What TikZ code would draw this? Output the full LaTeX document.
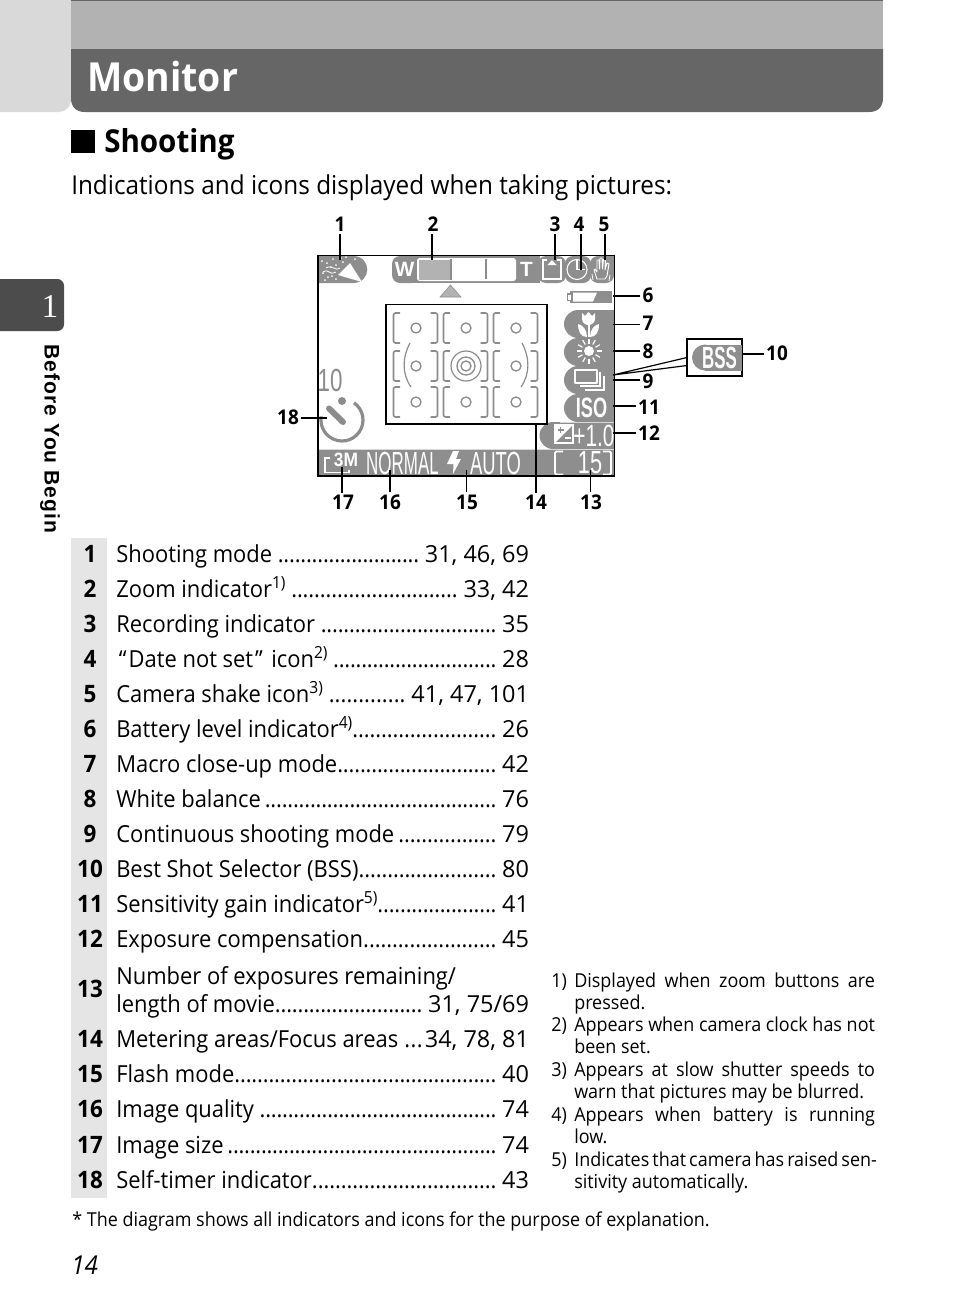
\documentclass[tikz,border=0pt]{standalone}
\usepackage{fontspec}
\usepackage{tikz}
\usepackage{xcolor}
\setmainfont[FakeStretch=0.935]{Open Sans}
\newfontfamily\numfont{Open Sans}
\newfontfamily\tabfont[LetterSpace=5]{Liberation Sans}
\newfontfamily\lcdfont{Liberation Sans}
\definecolor{iconbg}{HTML}{8E8E8E}
\definecolor{afgray}{HTML}{8C8C8C}
\newcommand{\dotrun}{\xleaders\hbox to 4.2pt{\hss.\hss}\hfill}
\newcommand{\fnm}[1]{\raisebox{6.5pt}{\fontsize{12.5pt}{14pt}\selectfont #1}}
\newcommand{\jline}[1]{\makebox[225.5pt][s]{#1}}
\tikzset{
  lbl/.style={font=\fontsize{15.2pt}{16pt}\selectfont\bfseries,inner sep=1.5pt},
  leadline/.style={line width=0.8pt},
  leadthick/.style={line width=1.3pt},
  rowtxt/.style={anchor=base west,inner sep=0pt,font=\fontsize{17.6pt}{20pt}\selectfont},
  rownum/.style={anchor=base,inner sep=0pt,font=\fontsize{18pt}{20pt}\selectfont\bfseries},
  notetxt/.style={anchor=base west,inner sep=0pt,font=\fontsize{14.4pt}{16.8pt}\selectfont},
  lcd/.style={inner sep=0pt,text=white,font=\lcdfont\fontsize{#1}{#1}\selectfont},
  lcdbold/.style={inner sep=0pt,text=white,font=\lcdfont\fontsize{#1}{#1}\selectfont\bfseries},
  afline/.style={draw=afgray,line width=1.2pt,rounded corners=1.5pt},
}
\begin{document}
\begin{tikzpicture}[x=0.75pt,y=-0.75pt]
  \useasboundingbox (0,0) rectangle (954,1314);
  % header
  \fill[black!15,rounded corners=9pt] (-20,-20) rectangle (71,112);
  \fill[black!30] (71,0) rectangle (883,49);
  \fill[black!60] (71,0) rectangle (883,1);
  \fill[black!60] (71,49) -- (883,49) -- (883,98) .. controls (883,107) and (878,112) .. (869,112) -- (85,112) .. controls (76,112) and (71,107) .. (71,98) -- cycle;
  \node[anchor=base west,inner sep=0pt,text=white,font=\fontsize{30pt}{32pt}\selectfont\bfseries] (title) at (87,91) {Monitor};
  % section head
  \fill (71,130) rectangle (95,153);
  \node[anchor=base west,inner sep=0pt,font=\fontsize{23.7pt}{26pt}\selectfont\bfseries] (sect) at (104,152) {Shooting};
  \node[anchor=base west,inner sep=0pt,font=\fontsize{19.5pt}{22pt}\selectfont] (sub) at (71,194) {Indications and icons displayed when taking pictures:};
  % chapter tab
  \fill[black!70,rounded corners=5pt] (-20,279) rectangle (64,331);
  \node[text=white,inner sep=0pt,font=\rmfamily\fontsize{25pt}{25pt}\selectfont] (chap) at (50,306) {\fontspec{Liberation Serif}1};
  \node[rotate=-90,anchor=center,inner sep=0pt,font=\tabfont\fontsize{15.8pt}{16pt}\selectfont\bfseries] (tabtxt) at (50,439) {Before You Begin};

  % screen: bottom strip and top icons
  \fill[iconbg] (318,449) rectangle (614,476);
  \fill[iconbg] (318,256) -- (353,256) .. controls (372,256) and (372,283) .. (353,283) -- (318,283) -- cycle;
  \fill[white] (338,275) -- (350,263) -- (362,282) -- cycle;
  \foreach \px/\py in {322/261, 327/263, 333/259, 341/258, 346/257, 355/259, 323/273, 328/277, 332/276, 325/280, 336/279, 343/262, 331/267, 336/265}
    \fill[white] (\px,\py) circle [radius=1];
  \draw[white,line width=0.6pt] (326,268) .. controls (332,264) and (336,272) .. (340,268);
  \draw[white,line width=0.6pt] (323,272) .. controls (330,268) and (328,276) .. (336,272);
  \fill[iconbg,rounded corners=6pt] (392,256) rectangle (420,283);
  \fill[iconbg] (404,256) rectangle (540,283);
  \fill[iconbg,rounded corners=6pt] (538,256) rectangle (566,283);
  \fill[iconbg,rounded corners=6pt] (565,256) rectangle (591,283);
  \fill[iconbg,rounded corners=6pt] (590,256) rectangle (614,283);
  \fill[iconbg] (600,256) rectangle (614,266);
  \node[lcdbold=15.5pt] (zw) at (404.5,269) {W};
  \fill[white,rounded corners=2pt] (417,258) rectangle (516,281);
  \fill[black!30] (419,259.5) rectangle (451,279.5);
  \draw[afgray,line width=0.8pt] (451,259) -- (451,280);
  \draw[afgray,line width=0.9pt] (486,259) -- (486,279);
  \node[lcdbold=15.5pt] (zt) at (526.5,269) {T};
  \draw[white,line width=0.8pt] (543,260) rectangle (561,279);
  \fill[iconbg] (547,258) rectangle (557,265);
  \fill[white] (547.5,265) -- (552,260) -- (556.5,265) -- cycle;
  \draw[white,line width=0.8pt] (577,269.5) circle [radius=10];
  \draw[white,line width=0.8pt] (577,260) -- (577,269.5) -- (585,269.5);
  \draw[white,line width=0.7pt,line join=round] (597,279) -- (594,270) -- (595,269) -- (597,272) -- (597,260) -- (599,260) -- (599.5,269) -- (600,258) -- (602,258) -- (602.5,269) -- (603.5,259.5) -- (605.5,260) -- (605,270) -- (607,263) -- (609,264) -- (607,276) -- (605,279) -- cycle;
  \draw[white,line width=0.6pt] (592,274) -- (593,280) (610,275) -- (609,281);
  \fill[black!30,draw=iconbg,line width=0.4pt] (440,297) -- (450.5,285) -- (461,297) -- cycle;
  % battery
  \fill[iconbg] (566.5,293) rectangle (573,301);
  \fill[iconbg] (570,291) rectangle (612,303);
  \fill[white] (568,294.5) rectangle (571,299.5);
  \fill[white] (573,292.5) -- (597,292.5) -- (593,301.5) -- (573,301.5) -- cycle;
  % right icon pills
  \foreach \cy in {324,352,380,408}{
    \fill[iconbg] (578,\cy) circle [radius=14];
    \fill[iconbg] (578,\cy-14) rectangle (614,\cy+14);
  }
  \fill[iconbg] (553,435.5) circle [radius=13.5];
  \fill[iconbg] (553,422) rectangle (614,449);
  \fill[white] (582,313) -- (585,316) -- (588.5,312) -- (592,316) -- (595,313) -- (595,319) .. controls (595,323) and (591,325) .. (588.5,325) .. controls (586,325) and (582,323) .. (582,319) -- cycle;
  \fill[white] (587.5,325) -- (589.5,325) -- (589.5,337) -- (587.5,337) -- cycle;
  \fill[white] (578,324) .. controls (583,325) and (587,330) .. (587,337) .. controls (581,337) and (578,332) .. (578,324) -- cycle;
  \fill[white] (599,324) .. controls (594,325) and (590,330) .. (590,337) .. controls (596,337) and (599,332) .. (599,324) -- cycle;
  \fill[white] (589,351) circle [radius=5];
  \foreach \ang in {0,30,...,330}
    \draw[white,line width=0.9pt] (589,351) ++(\ang:7.5) -- ++(\ang:5);
  \draw[white,line width=1.2pt,line join=round] (575,370) rectangle (597,383);
  \draw[white,line width=1.2pt] (600,372) -- (600,386) -- (580,386);
  \draw[white,line width=1.2pt] (604,376) -- (604,390) -- (585,390);
  \node[lcdbold=21pt,xscale=0.65] (iso) at (591.5,408) {ISO};
  \fill[white] (555,425) rectangle (573,443);
  \fill[iconbg] (573,425) -- (573,443) -- (555,443) -- cycle;
  \draw[white,line width=0.8pt] (555,425) rectangle (573,443);
  \draw[iconbg,line width=0.9pt] (557.5,430) -- (563.5,430) (560.5,427) -- (560.5,433);
  \draw[white,line width=0.9pt] (564.5,438) -- (570.5,438);
  \node[lcd=23pt,xscale=0.68] (evval) at (594,436) {+1.0};
  \draw[black!15,line width=0.5pt] (560,422) -- (614,422) (318,449) -- (614,449);
  % bottom strip content
  \draw[white,line width=0.8pt] (330,458) -- (325,458) -- (325,472.5) -- (349,472.5) -- (349,470);
  \node[lcdbold=14.5pt,xscale=0.9] (q3m) at (346,460) {3M};
  \node[lcd=24pt,xscale=0.53] (qual) at (402.5,463) {NORMAL};
  \fill[white] (453,451) -- (459,451) -- (456,459) -- (461,459) -- (453,474) -- (453.5,464) -- (447,464) -- cycle;
  \node[lcd=24pt,xscale=0.575] (flash) at (495.5,463) {AUTO};
  \draw[white,line width=1.4pt,rounded corners=1pt] (563,451.5) -- (555,451.5) -- (555,474.5) -- (563,474.5);
  \draw[white,line width=1.4pt,rounded corners=1pt] (603,451.5) -- (611,451.5) -- (611,474.5) -- (603,474.5);
  \node[lcd=24pt,xscale=0.68] (frames) at (590,463) {15};
  % timer
  \node[lcd=24pt,text=afgray,xscale=0.7] (secs) at (330,380) {10};
  \draw[afgray,line width=2.4pt] (342,420) ++(-55:21) arc[start angle=-55,end angle=190,radius=21];
  \fill[afgray] (342,401) circle [radius=4];
  \draw[afgray,line width=4.5pt,line cap=round] (329,408.5) -- (343,422);
  % focus areas
  \foreach \fx/\fy in {416/328,466/328,516/328,416/366,516/366,416/402,466/402,516/402,466/366}{
    \draw[afgray,line width=1pt] (\fx,\fy) circle [radius=5];
    \draw[afline] (\fx-16,\fy-15) -- (\fx-22.5,\fy-15) -- (\fx-22.5,\fy+15) -- (\fx-16,\fy+15);
    \draw[afline] (\fx+14.5,\fy-15) -- (\fx+21.5,\fy-15) -- (\fx+21.5,\fy+15) -- (\fx+14.5,\fy+15);
  }
  \draw[afgray,line width=0.9pt] (466,366) circle [radius=15];
  \draw[afgray,line width=1pt] (466,366) circle [radius=9];
  \draw[afgray,line width=0.9pt] (410,343) .. controls (402,358) and (402,374) .. (411,387);
  \draw[afgray,line width=0.9pt] (522,343) .. controls (530,358) and (530,374) .. (521,387);
  \draw[line width=1.3pt] (386,304.5) rectangle (546.7,424);
  % frame
  \draw[line width=1.3pt] (318,255.5) rectangle (614.5,476);
  % BSS
  \draw[line width=1.2pt] (687,339) rectangle (742,376);
  \fill[iconbg] (705,357.5) circle [radius=13];
  \fill[iconbg] (705,344.5) rectangle (742,370.5);
  \node[lcdbold=23pt,xscale=0.55] (bss) at (719.5,358) {BSS};
  % label targets
  \coordinate (t1) at (340,260); \coordinate (t2) at (432,260); \coordinate (t3) at (555,260);
  \coordinate (t4) at (581,270); \coordinate (t5) at (605,260);
  \coordinate (t6) at (613,296); \coordinate (t7) at (613,324.5); \coordinate (t8) at (613,351);
  \coordinate (t9) at (613,380); \coordinate (t10) at (742,354); \coordinate (t11) at (613,406); \coordinate (t12) at (613,433);
  \coordinate (t13) at (590.5,470); \coordinate (t14) at (536,425); \coordinate (t15) at (466.5,470);
  \coordinate (t16) at (390,470); \coordinate (t17) at (342,467); \coordinate (t18) at (327,418);
  \coordinate (bssa) at (687,357.5); \coordinate (bssb) at (687,365.5); \coordinate (tip) at (613,375);
  % labels
  \node[lbl] (n1) at (340,224) {1}; \node[lbl] (n2) at (433,224) {2}; \node[lbl] (n3) at (555,224) {3};
  \node[lbl] (n4) at (579,224) {4}; \node[lbl] (n5) at (604,224) {5};
  \node[lbl] (n6) at (648,295) {6}; \node[lbl] (n7) at (648,323) {7}; \node[lbl] (n8) at (648,351) {8};
  \node[lbl] (n9) at (648,381) {9}; \node[lbl] (n10) at (777,353) {10}; \node[lbl] (n11) at (649,407) {11};
  \node[lbl] (n12) at (649,433) {12}; \node[lbl] (n13) at (591,502) {13}; \node[lbl] (n14) at (536,502) {14};
  \node[lbl] (n15) at (467,502) {15}; \node[lbl] (n16) at (390,502) {16}; \node[lbl] (n17) at (343,502) {17};
  \node[lbl] (n18) at (288,417) {18};
  % connectors
  \foreach \k in {1,3,5} \draw[leadline] (n\k.south -| t\k) -- (t\k);
  \foreach \k in {2,4} \draw[leadthick] (n\k.south -| t\k) -- (t\k);
  \foreach \k in {6,7,9,10,11,12} \draw[leadline] (n\k.west |- t\k) -- (t\k);
  \draw[leadthick] (n8.west |- t8) -- (t8);
  \foreach \k in {13,15} \draw[leadline] (n\k.north -| t\k) -- (t\k);
  \foreach \k in {14,16,17} \draw[leadthick] (n\k.north -| t\k) -- (t\k);
  \draw[leadthick] (n18.east |- t18) -- (t18);
  \draw[line width=0.9pt] (bssa) -- (tip) -- (bssb);

  % table
  \fill[black!10] (71,538) rectangle (107,1198);
  \foreach \k/\y/\lab/\pg in {1/562/Shooting mode\ /{31, 46, 69},
      2/597/Zoom indicator\fnm{1)}\ /{33, 42},
      3/632/Recording indicator\ /35,
      4/667/\kern2pt“\kern1.5pt Date not set\kern1.5pt ”\kern2pt\ icon\fnm{2)}\ /28,
      5/702/Camera shake icon\fnm{3)}\ /{41, 47, 101},
      6/737/Battery level indicator\fnm{4)}/26,
      7/772/Macro close-up mode/42,
      8/807/White balance\,/76,
      9/842/Continuous shooting mode\,/79,
      10/877/Best Shot Selector (BSS)/80,
      11/912/Sensitivity gain indicator\fnm{5)}/41,
      12/947/Exposure compensation/45,
      14/1047/{Metering areas/Focus areas\ }/{\kern-3pt 34, 78, 81},
      15/1082/Flash mode/40,
      16/1117/Image quality\ /74,
      17/1153/Image size\,/74,
      18/1188/Self-timer indicator/43}{
    \node[rownum] (k\k) at (90,\y) {\k};
    \node[rowtxt] (r\k) at (116,\y) {\makebox[309.6pt][l]{\lab\dotrun\ {\numfont\pg}}};
  }
  \node[rownum] (k13) at (90,997) {13};
  \node[rowtxt] (r13a) at (116,984) {Number of exposures remaining/};
  \node[rowtxt] (r13b) at (116,1012) {\makebox[309.6pt][l]{length of movie\dotrun\ {\numfont 31, 75/69}}};
  % notes
  \foreach \k/\y/\first/\second in {
      1/987/Displayed when zoom buttons are/pressed.,
      2/1031.5/Appears when camera clock has not/been set.,
      3/1076.5/Appears at slow shutter speeds to/warn that pictures may be blurred.,
      4/1121.5/Appears when battery is running/low.,
      5/1166/Indicates that camera has raised sen-/sitivity automatically.}{
    \node[notetxt] (m\k) at (551,\y) {\k)};
    \node[notetxt] (p\k) at (574,\y) {\jline{\first}};
    \node[notetxt] (q\k) at (574,\y+22.2) {\second};
  }
  \node[anchor=base west,inner sep=0pt,font=\fontsize{14.4pt}{16pt}\selectfont] (star) at (72,1226) {* The diagram shows all indicators and icons for the purpose of explanation.};
  \node[anchor=base west,inner sep=0pt,font=\fontsize{19.5pt}{22pt}\selectfont\itshape] (pageno) at (71,1274) {14};
\end{tikzpicture}
\end{document}
